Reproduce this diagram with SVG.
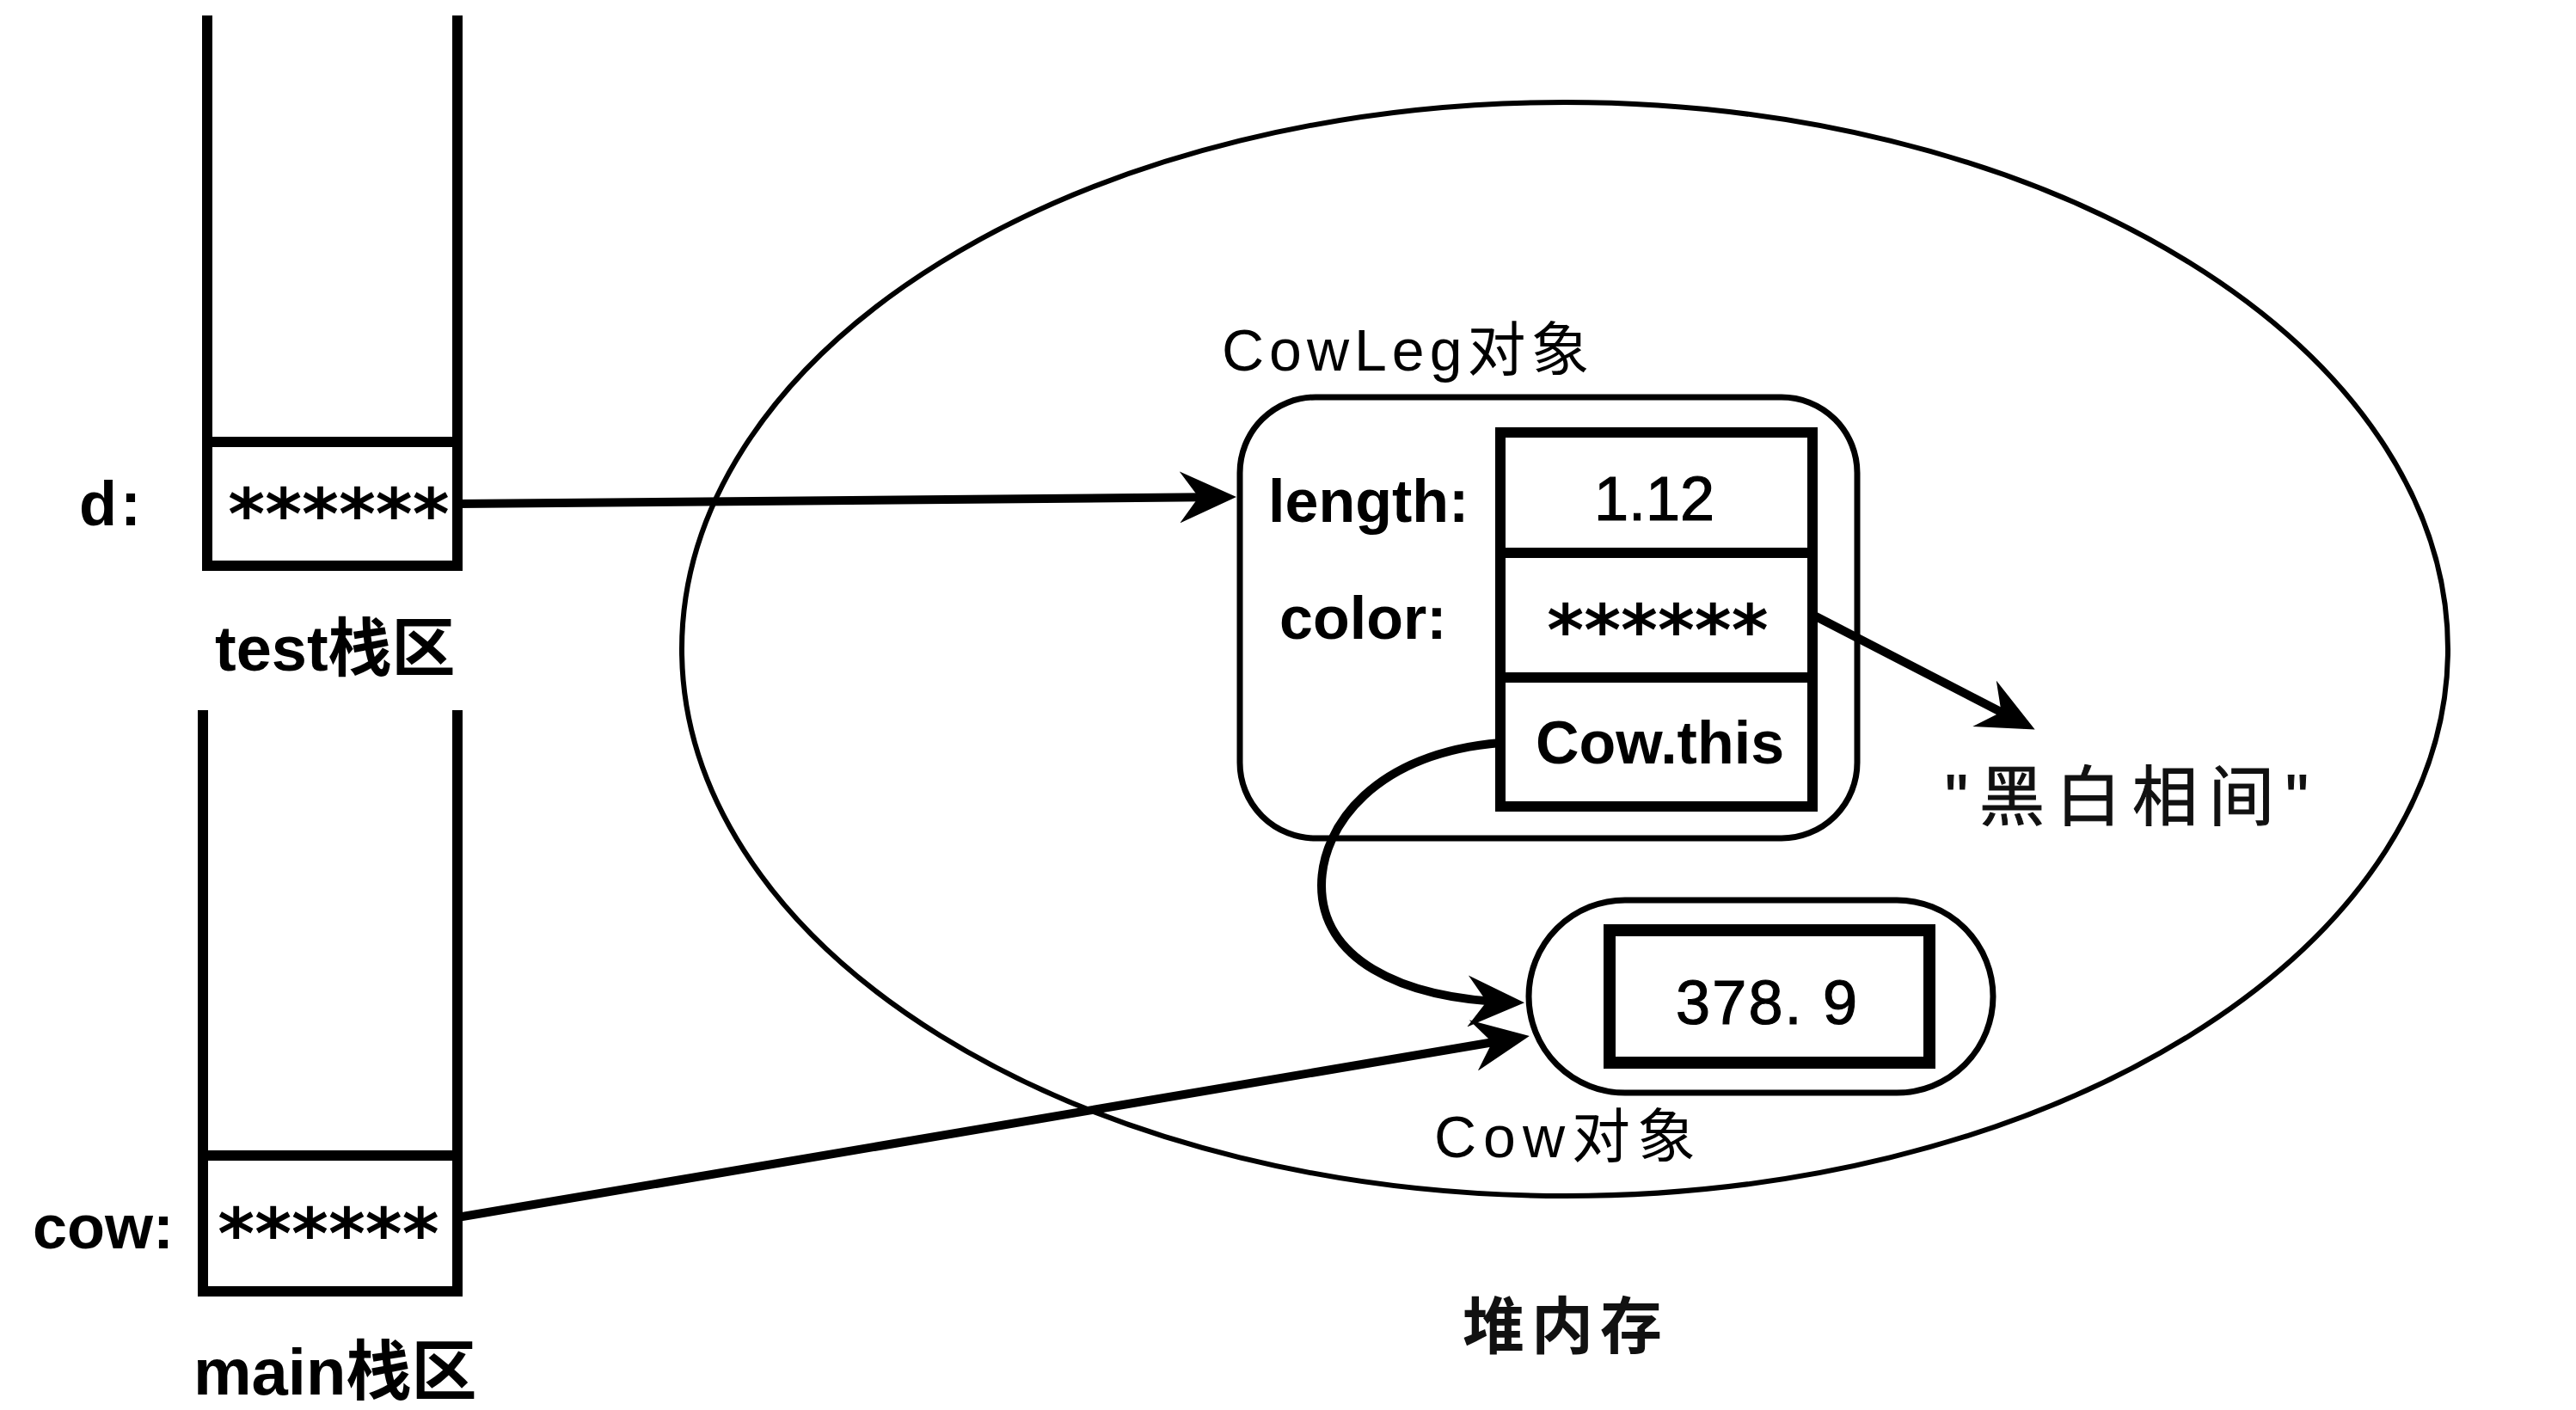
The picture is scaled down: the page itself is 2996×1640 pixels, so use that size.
<svg xmlns="http://www.w3.org/2000/svg" width="2996" height="1640" viewBox="0 0 2996 1640">
<style>
  .ln { fill: none; stroke: #000; stroke-linejoin: miter; stroke-linecap: square; }
  .stk { stroke-width: 12; }
  .arr { fill: none; stroke: #000; stroke-width: 10; stroke-linecap: butt; marker-end: url(#ah); }
  .t { font-family: "Liberation Sans", "Noto Sans CJK SC", Arial, sans-serif; fill: #000; }
  .b { font-weight: bold; }
  .star { font-family: "DejaVu Sans", sans-serif; font-weight: bold; font-size: 82px; text-anchor: middle; fill: #000; }
  .cjk { font-family: "Liberation Sans", "Noto Sans CJK SC", sans-serif; fill: #111; }
</style>
<defs>
  <marker id="ah" markerUnits="userSpaceOnUse" viewBox="0 0 66 60" markerWidth="66" markerHeight="60" refX="54" refY="30" orient="auto">
    <path d="M0,0 L66,30 L0,60 L22,30 Z" fill="#000"/>
  </marker>
</defs>
<rect width="2996" height="1640" fill="#fff"/>

<g id="heap">
  <ellipse cx="1820" cy="755" rx="1027" ry="636" fill="none" stroke="#000" stroke-width="6"/>
  <text class="cjk b" x="1701" y="1568" font-size="72" letter-spacing="8">堆内存</text>
</g>

<g id="stack-test">
  <path class="ln stk" d="M241,24 V658 H532 V24"/>
  <line class="ln stk" x1="241" y1="514" x2="532" y2="514"/>
  <text class="t b" x="92" y="611" font-size="72" letter-spacing="4">d:</text>
  <text class="star" x="394" y="627">******</text>
  <text class="t b" x="250" y="780" font-size="74">test栈区</text>
</g>

<g id="stack-main">
  <path class="ln stk" d="M236,832 V1502 H532 V832"/>
  <line class="ln stk" x1="236" y1="1344" x2="532" y2="1344"/>
  <text class="t b" x="38" y="1452" font-size="72">cow:</text>
  <text class="star" x="382" y="1464">******</text>
  <text class="t b" x="225" y="1622" font-size="76">main栈区</text>
</g>

<g id="cowleg">
  <text class="t" x="1421" y="431" font-size="68" letter-spacing="6">CowLeg对象</text>
  <rect x="1442" y="462" width="718" height="513" rx="88" ry="88" fill="none" stroke="#000" stroke-width="7"/>
  <rect x="1745" y="503" width="363" height="435" fill="none" stroke="#000" stroke-width="12"/>
  <line x1="1745" y1="643" x2="2108" y2="643" stroke="#000" stroke-width="12"/>
  <line x1="1745" y1="788" x2="2108" y2="788" stroke="#000" stroke-width="12"/>
  <text class="t b" x="1475" y="607" font-size="70">length:</text>
  <text class="t" x="1924" y="605" font-size="72" text-anchor="middle" stroke="#000" stroke-width="1.2">1.12</text>
  <text class="t b" x="1488" y="743" font-size="70">color:</text>
  <text class="star" x="1928" y="762">******</text>
  <text class="t b" x="1786" y="888" font-size="70">Cow.this</text>
</g>

<g id="cow">
  <rect x="1778" y="1047" width="540" height="224" rx="112" ry="112" fill="none" stroke="#000" stroke-width="7"/>
  <rect x="1872" y="1082" width="372" height="154" fill="none" stroke="#000" stroke-width="14"/>
  <text class="t" x="1949" y="1191" font-size="72" textLength="211" stroke="#000" stroke-width="1.2">378. 9</text>
  <text class="t" x="1668" y="1346" font-size="68" letter-spacing="8">Cow对象</text>
</g>

<g id="string-value">
  <text class="cjk" x="2262" y="954" font-size="76" letter-spacing="13" stroke="#111" stroke-width="1">"黑白相间"</text>
</g>

<g id="connectors">
  <path class="arr" d="M532,586 L1426,578"/>
  <path class="arr" d="M532,1416 L1767,1207"/>
  <path class="arr" d="M2110,716 L2356,843"/>
  <path class="arr" d="M1745,864 C1600,876 1537,960 1537,1030 C1537,1112 1622,1162 1761,1166"/>
</g>
</svg>
